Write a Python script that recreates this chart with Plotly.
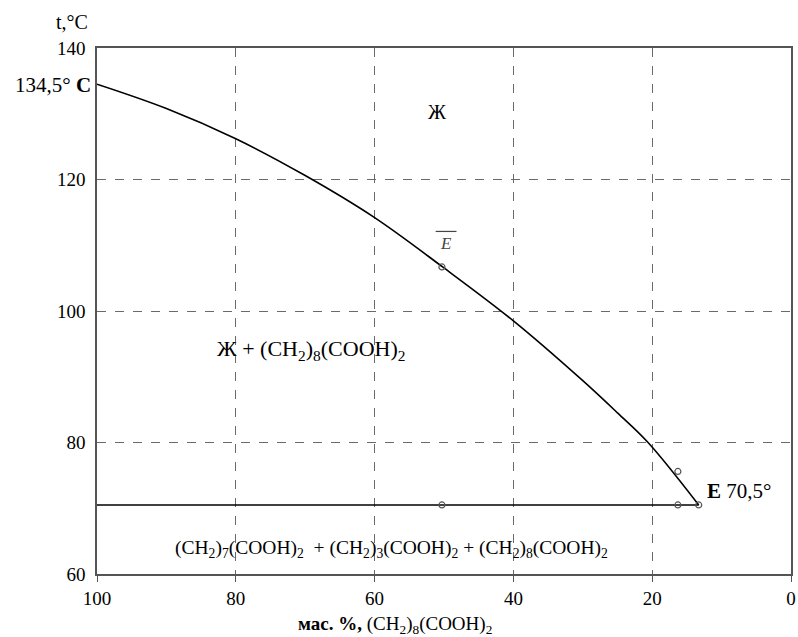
import plotly.graph_objects as go

# liquidus curve: mass % (CH2)8(COOH)2 vs temperature
curve_x = [100, 90, 80, 70, 60, 50.2, 40, 30, 25, 20.6, 13.3]
curve_t = [134.5, 130.8, 126.2, 120.6, 114.2, 106.7, 98.5, 89.4, 84.5, 80.0, 70.5]

# eutectic horizontal
eut_x = [100, 13.3]
eut_t = [70.5, 70.5]

# marked experimental points
pts_x = [50.3, 16.3, 16.3, 50.3, 13.3]
pts_t = [106.7, 75.6, 70.5, 70.5, 70.5]

x_ticks = [100, 80, 60, 40, 20, 0]
y_ticks = [60, 80, 100, 120, 140]

FONT = "Liberation Serif, Times New Roman, serif"

fig = go.Figure()
fig.add_trace(go.Scatter(x=curve_x, y=curve_t, mode="lines",
                         line=dict(color="black", width=1.6, shape="spline", smoothing=1.0), hoverinfo="skip"))
fig.add_trace(go.Scatter(x=eut_x, y=eut_t, mode="lines", line=dict(color="black", width=1.4), hoverinfo="skip"))
fig.add_trace(go.Scatter(x=pts_x, y=pts_t, mode="markers",
                         marker=dict(symbol="circle-open", size=6, color="#555555", line=dict(width=1.2)), hoverinfo="skip"))

fig.update_layout(
    width=798, height=637,
    margin=dict(l=97, r=7, t=48, b=63),
    plot_bgcolor="white", paper_bgcolor="white",
    showlegend=False,
    font=dict(family=FONT, size=19, color="black"),
    xaxis=dict(range=[100, 0], tickvals=x_ticks, showgrid=True, gridcolor="#6a6a6a", griddash="dash", gridwidth=1.3,
               zeroline=False, showline=True, linecolor="#555555", linewidth=1.5, mirror=True,
               ticks="outside", ticklen=6, tickcolor="#555555", automargin=False,
               tickfont=dict(size=19)),
    yaxis=dict(range=[60, 140], tickvals=y_ticks, showgrid=True, gridcolor="#6a6a6a", griddash="dash", gridwidth=1.3,
               zeroline=False, showline=True, linecolor="#555555", linewidth=1.5, mirror=True,
               ticks="", ticklabelstandoff=6, automargin=False, tickfont=dict(size=19)),
)

ann = [
    dict(x=-0.01, y=1, xref="paper", yref="paper", text="t,°C", xanchor="right", yanchor="bottom", yshift=13,
         showarrow=False, font=dict(size=20)),
    dict(x=100, y=134.5, text="134,5° <b>C</b>", xanchor="right", yanchor="middle", xshift=-4, yshift=-1,
         showarrow=False, font=dict(size=21)),
    dict(x=13.3, y=70.5, text="<b>E</b> 70,5°", xanchor="left", yanchor="middle", xshift=6, yshift=14,
         showarrow=False, font=dict(size=21)),
    dict(x=51, y=130.3, text="Ж", showarrow=False, font=dict(size=20)),
    dict(x=49.7, y=110.3, text="<i>E</i>", showarrow=False, font=dict(size=17, color="#444444")),
    dict(x=69.2, y=94.0, text="Ж + (CH<sub>2</sub>)<sub>8</sub>(COOH)<sub>2</sub>", showarrow=False, font=dict(size=22)),
    dict(x=57.6, y=63.8,
         text="(CH<sub>2</sub>)<sub>7</sub>(COOH)<sub>2</sub>  + (CH<sub>2</sub>)<sub>3</sub>(COOH)<sub>2</sub> + (CH<sub>2</sub>)<sub>8</sub>(COOH)<sub>2</sub>",
         showarrow=False, font=dict(size=19.5)),
    dict(x=0.43, y=0, xref="paper", yref="paper", yanchor="middle", yshift=-51,
         text="<b>мас. %,</b> (CH<sub>2</sub>)<sub>8</sub>(COOH)<sub>2</sub>", showarrow=False, font=dict(size=19)),
]
fig.update_layout(annotations=ann)
# overline above the E
fig.add_shape(type="line", x0=51.2, x1=48.2, y0=112.1, y1=112.1, line=dict(color="#444444", width=1.2))

fig.write_html("out.html", config={"displayModeBar": False},
               post_script="document.body.style.margin='0';document.body.style.overflow='hidden';")
